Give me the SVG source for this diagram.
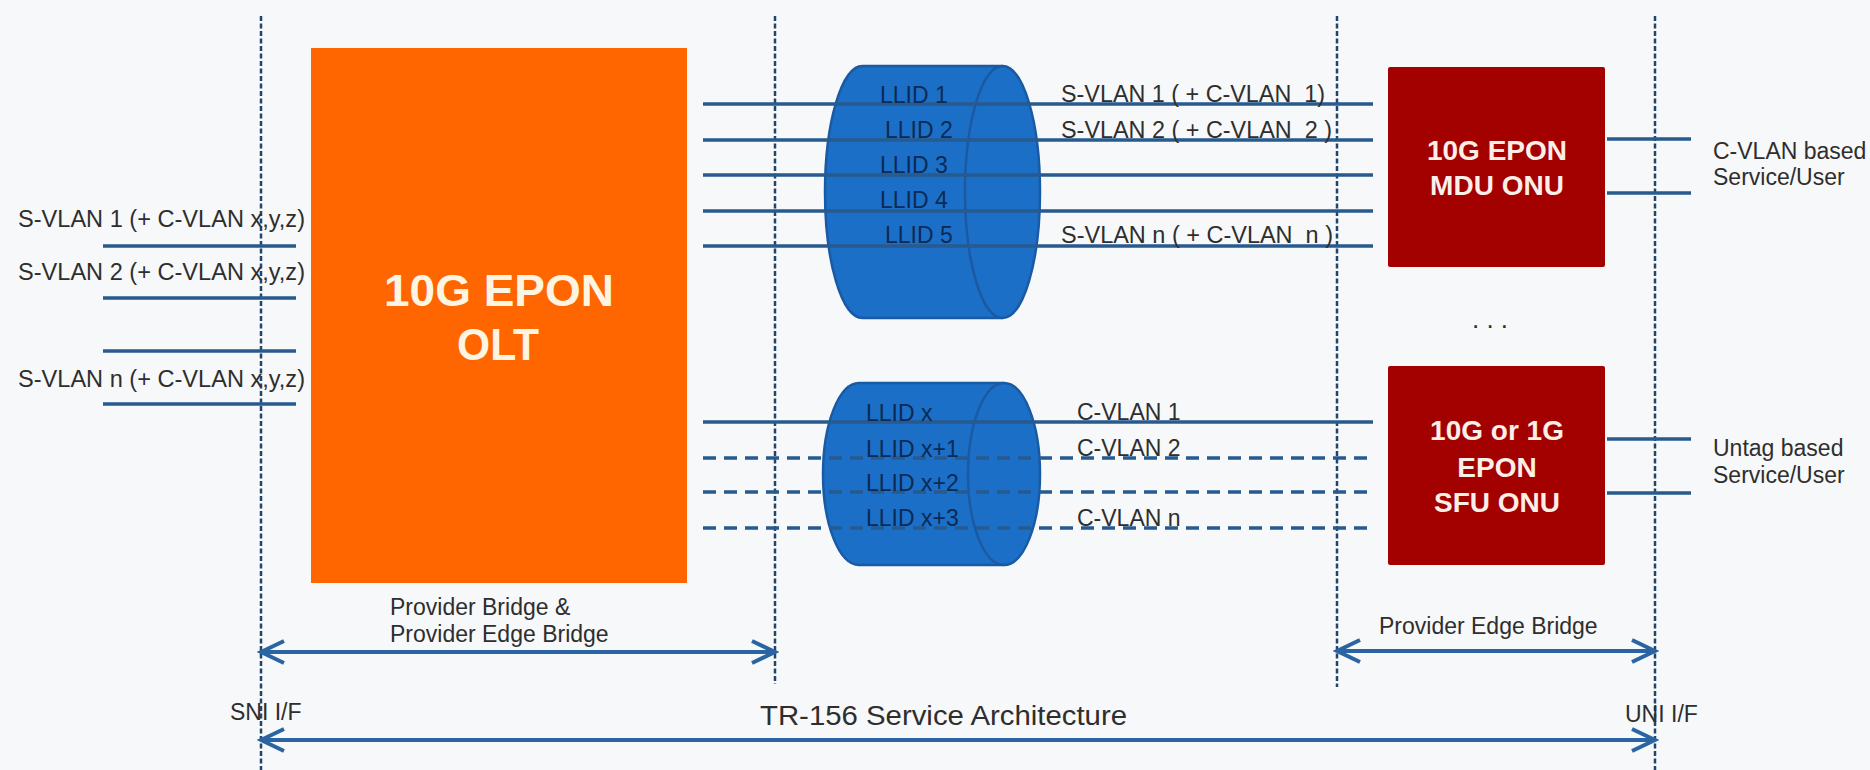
<svg xmlns="http://www.w3.org/2000/svg" width="1870" height="770" viewBox="0 0 1870 770">
  <style>
    .bg { fill: #f7f8f9; }
    .bound { stroke: #23456d; stroke-width: 2.5; stroke-dasharray: 5 2.5; fill: none; }
    .wire { stroke: #275a8e; stroke-width: 3.5; fill: none; }
    .wire-dash { stroke: #275a8e; stroke-width: 3.5; fill: none; stroke-dasharray: 13 8; }
    .span { stroke: #2b64a2; stroke-width: 4; fill: none; marker-start: url(#chev); marker-end: url(#chev); }
    .lbl { font-family: "Liberation Sans", Arial, sans-serif; font-size: 23px; fill: #2e2e2e; white-space: pre; }
    .llid { font-family: "Liberation Sans", Arial, sans-serif; font-size: 23px; fill: #0b2a55; }
    .olt-box { fill: #ff6600; }
    .olt-txt { font-family: "Liberation Sans", Arial, sans-serif; font-size: 44px; font-weight: bold; fill: #fdf4e2; text-anchor: middle; }
    .onu-box { fill: #a30000; }
    .onu-txt { font-family: "Liberation Sans", Arial, sans-serif; font-size: 28px; font-weight: bold; fill: #fbefe8; text-anchor: middle; }
    .cyl { fill: #1c6fc6; stroke: #1a5aa5; stroke-width: 2.5; }
    .cyl-face { fill: none; stroke: #1a5aa5; stroke-width: 2.5; }
  </style>
  <defs>
    <marker id="chev" markerUnits="userSpaceOnUse" viewBox="-28 -15 32 30" markerWidth="32" markerHeight="30" refX="0" refY="0" orient="auto-start-reverse">
      <path d="M -23 -11 L 0 0 L -23 11" fill="none" stroke="#2b64a2" stroke-width="4" stroke-linejoin="miter"/>
    </marker>
  </defs>

  <rect class="bg" x="0" y="0" width="1870" height="770"/>

  <!-- interface / domain boundaries -->
  <g id="boundaries">
    <line class="bound" x1="261" y1="16" x2="261" y2="770"/>
    <line class="bound" x1="775" y1="16" x2="775" y2="684"/>
    <line class="bound" x1="1337" y1="16" x2="1337" y2="687"/>
    <line class="bound" x1="1655" y1="16" x2="1655" y2="770"/>
  </g>

  <!-- OLT -->
  <g id="olt">
    <rect class="olt-box" x="311" y="48" width="376" height="535"/>
    <text class="olt-txt" x="499" y="306" textLength="230" lengthAdjust="spacingAndGlyphs">10G EPON</text>
    <text class="olt-txt" x="498" y="360" textLength="82" lengthAdjust="spacingAndGlyphs">OLT</text>
  </g>

  <!-- LLID bundle towards the MDU ONU -->
  <g id="llid-bundle-mdu">
    <path class="cyl" d="M 862.5 66 L 1002.5 66 A 37.5 126 0 0 1 1002.5 318 L 862.5 318 A 37.5 126 0 0 1 862.5 66 Z"/>
    <path class="cyl-face" d="M 1002.5 66 A 37.5 126 0 0 0 1002.5 318"/>
  </g>

  <!-- LLID bundle towards the SFU ONU -->
  <g id="llid-bundle-sfu">
    <path class="cyl" d="M 859 383 L 1004 383 A 36 91 0 0 1 1004 565 L 859 565 A 36 91 0 0 1 859 383 Z"/>
    <path class="cyl-face" d="M 1004 383 A 36 91 0 0 0 1004 565"/>
  </g>

  <!-- MDU ONU -->
  <g id="mdu-onu">
    <rect class="onu-box" x="1388" y="67" width="217" height="200" rx="2"/>
    <text class="onu-txt" x="1497" y="160">10G EPON</text>
    <text class="onu-txt" x="1497" y="195">MDU ONU</text>
  </g>

  <!-- SFU ONU -->
  <g id="sfu-onu">
    <rect class="onu-box" x="1388" y="366" width="217" height="199" rx="2"/>
    <text class="onu-txt" x="1497" y="440">10G or 1G</text>
    <text class="onu-txt" x="1497" y="477">EPON</text>
    <text class="onu-txt" x="1497" y="512">SFU ONU</text>
  </g>

  <!-- links and extents -->
  <g id="connectors">
    <!-- SNI side -->
    <line class="wire" x1="103" y1="246" x2="296" y2="246"/>
    <line class="wire" x1="103" y1="298" x2="296" y2="298"/>
    <line class="wire" x1="103" y1="351" x2="296" y2="351"/>
    <line class="wire" x1="103" y1="404" x2="296" y2="404"/>
    <!-- OLT to MDU ONU -->
    <line class="wire" x1="703" y1="104" x2="1373" y2="104"/>
    <line class="wire" x1="703" y1="140" x2="1373" y2="140"/>
    <line class="wire" x1="703" y1="175" x2="1373" y2="175"/>
    <line class="wire" x1="703" y1="211" x2="1373" y2="211"/>
    <line class="wire" x1="703" y1="246" x2="1373" y2="246"/>
    <!-- OLT to SFU ONU -->
    <line class="wire" x1="703" y1="422" x2="1373" y2="422"/>
    <line class="wire-dash" x1="703" y1="458" x2="1373" y2="458"/>
    <line class="wire-dash" x1="703" y1="492" x2="1373" y2="492"/>
    <line class="wire-dash" x1="703" y1="528" x2="1373" y2="528"/>
    <!-- UNI side -->
    <line class="wire" x1="1607" y1="139" x2="1691" y2="139"/>
    <line class="wire" x1="1607" y1="193" x2="1691" y2="193"/>
    <line class="wire" x1="1607" y1="439" x2="1691" y2="439"/>
    <line class="wire" x1="1607" y1="493" x2="1691" y2="493"/>
    <!-- extents -->
    <line class="span" x1="261" y1="652" x2="775" y2="652"/>
    <line class="span" x1="1337" y1="651" x2="1655" y2="651"/>
    <line class="span" x1="261" y1="740" x2="1655" y2="740"/>
  </g>

  <!-- LLID labels -->
  <g id="llid-labels">
    <text class="llid" x="880" y="103">LLID 1</text>
    <text class="llid" x="885" y="138">LLID 2</text>
    <text class="llid" x="880" y="173">LLID 3</text>
    <text class="llid" x="880" y="208">LLID 4</text>
    <text class="llid" x="885" y="243">LLID 5</text>
    <text class="llid" x="866" y="421">LLID x</text>
    <text class="llid" x="866" y="457">LLID x+1</text>
    <text class="llid" x="866" y="491">LLID x+2</text>
    <text class="llid" x="866" y="526">LLID x+3</text>
  </g>

  <!-- VLAN and service labels -->
  <g id="labels">
    <text class="lbl" x="18" y="227" textLength="287" lengthAdjust="spacingAndGlyphs">S-VLAN 1 (+ C-VLAN x,y,z)</text>
    <text class="lbl" x="18" y="280" textLength="287" lengthAdjust="spacingAndGlyphs">S-VLAN 2 (+ C-VLAN x,y,z)</text>
    <text class="lbl" x="18" y="387" textLength="287" lengthAdjust="spacingAndGlyphs">S-VLAN n (+ C-VLAN x,y,z)</text>

    <text class="lbl" x="1061" y="102" textLength="264" lengthAdjust="spacingAndGlyphs">S-VLAN 1 ( + C-VLAN  1)</text>
    <text class="lbl" x="1061" y="138" textLength="271" lengthAdjust="spacingAndGlyphs">S-VLAN 2 ( + C-VLAN  2 )</text>
    <text class="lbl" x="1061" y="243" textLength="272" lengthAdjust="spacingAndGlyphs">S-VLAN n ( + C-VLAN  n )</text>

    <text class="lbl" x="1077" y="420">C-VLAN 1</text>
    <text class="lbl" x="1077" y="456">C-VLAN 2</text>
    <text class="lbl" x="1077" y="526">C-VLAN n</text>

    <text class="lbl" x="1713" y="159">C-VLAN based</text>
    <text class="lbl" x="1713" y="185">Service/User</text>
    <text class="lbl" x="1713" y="456">Untag based</text>
    <text class="lbl" x="1713" y="483">Service/User</text>

    <text class="lbl" x="1490" y="328" text-anchor="middle" style="font-size:26px">. . .</text>

    <text class="lbl" x="390" y="615">Provider Bridge &amp;</text>
    <text class="lbl" x="390" y="642">Provider Edge Bridge</text>
    <text class="lbl" x="1379" y="634">Provider Edge Bridge</text>

    <text class="lbl" x="230" y="720">SNI I/F</text>
    <text class="lbl" x="1625" y="722">UNI I/F</text>
    <text class="lbl" x="760" y="725" style="font-size:27px" textLength="367" lengthAdjust="spacingAndGlyphs">TR-156 Service Architecture</text>
  </g>
</svg>
